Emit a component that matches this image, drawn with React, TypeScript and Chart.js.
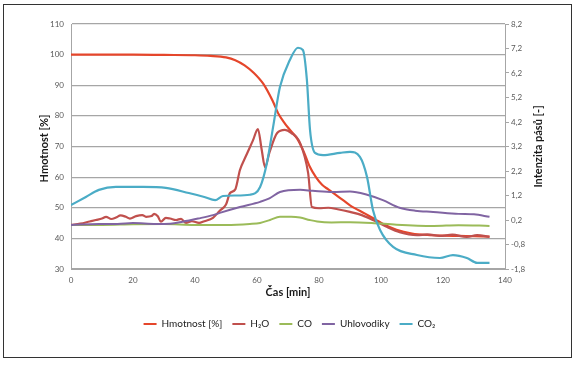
import React, { useEffect, useRef } from "react";
import { Chart, registerables } from "chart.js";

Chart.register(...registerables);

// ---- data ----
const hmotnostTime = [0, 10, 20, 30, 40, 45, 50, 53, 56, 59, 62, 65, 67, 69, 71, 73, 75, 77, 79, 81, 83, 85, 88, 90, 95, 98, 101, 105, 110, 115, 120, 125, 130, 135];
const hmotnostValues = [100, 100, 100, 99.9, 99.8, 99.6, 99.1, 98.2, 96.5, 94, 90.5, 85, 80.5, 77.5, 75, 72.5, 68.5, 63.5, 60, 57.5, 56, 54.5, 52.3, 50.8, 48, 46.3, 44.5, 42.8, 41.6, 41.1, 40.9, 40.8, 40.7, 40.6];

const h2oTime = [0, 3, 6, 8, 10, 11.3, 13, 14.5, 16, 17.7, 19, 21, 23, 24.2, 26, 26.8, 28, 29, 30.6, 32, 33.9, 35.5, 37.1, 39, 41.3, 43, 45.8, 48, 50, 51.3, 53, 54.5, 56.5, 58.7, 60.3, 61.5, 62.6, 64, 66.5, 69, 71, 73.9, 76.5, 77.7, 80, 83, 86, 90, 94, 97.4, 102, 106, 111.6, 115, 119, 123, 127.7, 131, 135];
const h2oValues = [0.0, 0.05, 0.14, 0.2, 0.26, 0.33, 0.24, 0.3, 0.39, 0.33, 0.26, 0.36, 0.4, 0.33, 0.36, 0.45, 0.35, 0.13, 0.29, 0.26, 0.2, 0.25, 0.08, 0.15, 0.08, 0.15, 0.29, 0.58, 0.83, 1.3, 1.45, 2.24, 2.83, 3.45, 3.91, 3.08, 2.36, 2.95, 3.75, 3.88, 3.76, 3.34, 2.11, 0.73, 0.68, 0.7, 0.64, 0.53, 0.39, 0.2, -0.09, -0.3, -0.42, -0.39, -0.45, -0.4, -0.49, -0.42, -0.49];

const coTime = [0, 10, 20, 30, 40, 50, 57.7, 61, 64.2, 67.4, 71, 73.9, 77, 79.4, 84, 90, 97, 105, 117, 125, 135];
const coValues = [0.0, 0.0, 0.03, 0.04, 0.0, 0.0, 0.04, 0.08, 0.2, 0.33, 0.33, 0.3, 0.2, 0.14, 0.1, 0.11, 0.08, 0.01, -0.04, -0.01, -0.04];

const uhlTime = [0, 9, 15, 20, 27.4, 32, 36, 41, 45.8, 48, 54.5, 61, 64, 67.4, 73.9, 78, 84.5, 90, 95.5, 100.6, 106, 111, 116.8, 125, 130, 135];
const uhlValues = [0.0, 0.04, 0.04, 0.08, 0.04, 0.05, 0.13, 0.26, 0.4, 0.49, 0.73, 0.94, 1.08, 1.34, 1.43, 1.39, 1.34, 1.36, 1.23, 1.01, 0.7, 0.58, 0.53, 0.45, 0.43, 0.33];

const co2Time = [0, 4.8, 9, 14.5, 23.2, 30.6, 38, 43, 46.5, 49, 53, 57.7, 61, 63.2, 65.2, 67.4, 70.6, 73.2, 74.8, 76.1, 77.1, 78.7, 81.3, 86.8, 90, 93.2, 95.5, 97.4, 99.7, 103.9, 111.6, 119, 123.2, 127.7, 131, 135];
const co2Values = [0.81, 1.14, 1.43, 1.55, 1.55, 1.51, 1.3, 1.14, 1.01, 1.18, 1.2, 1.23, 1.55, 2.53, 4.0, 5.63, 6.73, 7.23, 7.14, 5.91, 3.88, 2.94, 2.85, 2.94, 2.98, 2.78, 1.95, 0.61, -0.21, -0.9, -1.23, -1.35, -1.23, -1.35, -1.55, -1.55];

const seriesLabels = ["Hmotnost [%]", "H\u2082O", "CO", "Uhlovodiky", "CO\u2082"];
const seriesColors = ["#e5462b", "#c0504d", "#9bbb59", "#8064a2", "#4bacc6"];

const xTitle = "Čas [min]";
const yLeftTitle = "Hmotnost [%]";
const yRightTitle = "Intenzita pásů [-]";

const FONT = "Lato, 'Open Sans', sans-serif";

const toPoints = (t: number[], v: number[]) => t.map((x, i) => ({ x, y: v[i] }));
const fmt = (v: number) => (Math.round(v * 10) / 10).toFixed(1).replace(".", ",").replace("-0,0", "0,0");

export default function App() {
  const ref = useRef<HTMLCanvasElement | null>(null);

  useEffect(() => {
    if (!ref.current) return;
    const titlePlugin = {
      id: "axisTitles",
      afterDraw(chart: any) {
        const ctx = chart.ctx;
        const area = chart.chartArea;
        const cy = (area.top + area.bottom) / 2;
        ctx.save();
        ctx.fillStyle = "#1a1a1a";
        ctx.font = `bold 11px ${FONT}`;
        ctx.textAlign = "center";
        ctx.textBaseline = "middle";
        ctx.fillText(xTitle, (area.left + area.right) / 2, area.bottom + 23);
        ctx.save();
        ctx.translate(area.left - 27, cy + 2);
        ctx.rotate(-Math.PI / 2);
        ctx.fillText(yLeftTitle, 0, 0);
        ctx.restore();
        ctx.save();
        ctx.translate(area.right + 33, cy);
        ctx.rotate(-Math.PI / 2);
        ctx.fillText(yRightTitle, 0, 0);
        ctx.restore();
        ctx.restore();
      },
    };

    const mk = (i: number, data: any[], axis: string, width: number, order: number) => ({
      label: seriesLabels[i],
      data,
      yAxisID: axis,
      borderColor: seriesColors[i],
      backgroundColor: seriesColors[i],
      borderWidth: width,
      pointRadius: 0,
      cubicInterpolationMode: "monotone" as const,
      order,
    });

    const chart = new Chart(ref.current, {
      type: "line",
      data: {
        datasets: [
          mk(0, toPoints(hmotnostTime, hmotnostValues), "y", 2.2, 5),
          mk(1, toPoints(h2oTime, h2oValues), "y1", 2.2, 4),
          mk(2, toPoints(coTime, coValues), "y1", 2, 3),
          mk(3, toPoints(uhlTime, uhlValues), "y1", 2, 2),
          mk(4, toPoints(co2Time, co2Values), "y1", 2.2, 1),
        ],
      },
      options: {
        animation: false,
        responsive: false,
        layout: { padding: { left: 0, right: 0, top: 24, bottom: 27 } },
        plugins: {
          tooltip: { enabled: false },
          legend: {
            position: "bottom",
            labels: {
              font: { family: FONT, size: 10 },
              color: "#222",
              boxWidth: 13,
              boxHeight: 2,
              padding: 10,
              sort: (a: any, b: any) => a.datasetIndex - b.datasetIndex,
              generateLabels: (chart: any) => {
                const items = Chart.defaults.plugins.legend.labels.generateLabels(chart);
                return items.map((it: any) => ({
                  ...it,
                  fillStyle: seriesColors[it.datasetIndex],
                  strokeStyle: "rgba(0,0,0,0)",
                  lineWidth: 1,
                }));
              },
            },
          },
        },
        scales: {
          x: {
            type: "linear",
            min: 0,
            max: 140,
            afterFit: (s: any) => {
              s.height = 40;
            },
            ticks: {
              stepSize: 20,
              padding: 7,
              color: "#595959",
              font: { family: FONT, size: 8 },
              maxRotation: 0,
            },
            grid: { display: false, drawTicks: false },
            border: { display: true, color: "#a6a6a6", width: 1 },
          },
          y: {
            position: "left",
            min: 30,
            max: 110,
            afterFit: (s: any) => {
              s.width = 71;
            },
            ticks: {
              stepSize: 10,
              padding: 7,
              color: "#595959",
              font: { family: FONT, size: 8 },
            },
            grid: { color: "#a6a6a6", lineWidth: 1.2, drawTicks: false },
            border: { display: true, color: "#a6a6a6", width: 1 },
          },
          y1: {
            position: "right",
            min: -1.8,
            max: 8.2,
            afterFit: (s: any) => {
              s.width = 74;
            },
            ticks: {
              stepSize: 1,
              padding: 2,
              color: "#595959",
              font: { family: FONT, size: 8 },
              callback: (v: any) => fmt(Number(v)),
            },
            grid: { drawOnChartArea: false, drawTicks: true, tickLength: 4, color: "#a6a6a6" },
            border: { display: true, color: "#a6a6a6", width: 1 },
          },
        },
      },
      plugins: [titlePlugin],
    });
    return () => chart.destroy();
  }, []);

  return (
    <div style={{ position: "fixed", left: 0, top: 0, width: 579, height: 366, background: "#fff" }}>
      <canvas ref={ref} width={579} height={366} style={{ position: "absolute", left: 0, top: 0, display: "block" }} />
      <div
        style={{
          position: "absolute",
          left: 3,
          top: 4,
          width: 567,
          height: 352,
          border: "1px solid #333",
          pointerEvents: "none",
        }}
      />
    </div>
  );
}
